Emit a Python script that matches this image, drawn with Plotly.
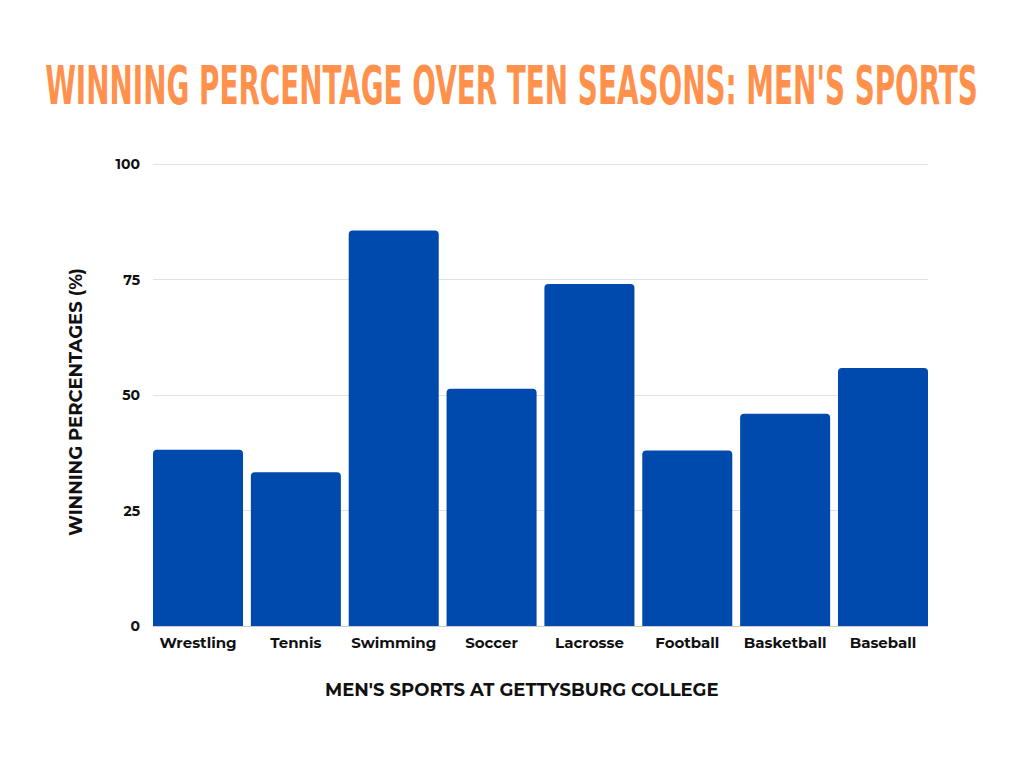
import plotly.graph_objects as go

categories = ["Wrestling", "Tennis", "Swimming", "Soccer", "Lacrosse", "Football", "Basketball", "Baseball"]
win_pct = [38.2, 33.3, 85.7, 51.4, 74.1, 38.0, 46.0, 55.9]
y_ticks = [0, 25, 50, 75, 100]

TITLE = "WINNING PERCENTAGE OVER TEN SEASONS: MEN'S SPORTS"
X_TITLE = "MEN'S SPORTS AT GETTYSBURG COLLEGE"
Y_TITLE = "WINNING PERCENTAGES (%)"
FONT = "Montserrat, Inter, 'Noto Sans', sans-serif"
GAP = 0.08

fig = go.Figure(go.Bar(
    x=categories, y=win_pct,
    marker=dict(color="#004aad", cornerradius=4, line=dict(width=0)),
    hoverinfo="x+y",
))

axis_title_font = dict(family=FONT, size=18, color="#111111", weight="bold")

fig.update_layout(
    width=1024, height=768,
    paper_bgcolor="white", plot_bgcolor="white",
    margin=dict(l=145, r=104, t=155, b=150),
    bargap=GAP,
    showlegend=False,
    title=dict(
        text=TITLE, x=503.5 / 1024, xanchor="center", y=1 - 77 / 768, yanchor="middle",
        font=dict(family="'DejaVu Sans Condensed', 'Liberation Sans Narrow', sans-serif",
                  size=54, color="#ff914d", weight="bold"),
    ),
    xaxis=dict(
        tickfont=dict(family=FONT, size=15, color="#111111", weight="bold"),
        range=[-0.5 + GAP / 2, len(categories) - 0.5 - GAP / 2],
        showgrid=False, showline=False, ticks="", zeroline=False,
        ticklabelstandoff=6,
    ),
    yaxis=dict(
        tickfont=dict(family=FONT, size=14, color="#111111", weight="bold"),
        range=[0, 100.3], tickvals=y_ticks, ticktext=[str(v) for v in y_ticks],
        showgrid=True, gridcolor="#e2e2e2", gridwidth=1,
        zeroline=True, zerolinecolor="#cccccc", zerolinewidth=1,
        ticks="", ticklabelstandoff=12, showline=False,
    ),
    annotations=[
        dict(text=X_TITLE, xref="paper", yref="paper", x=0.4761, y=-0.1382,
             xanchor="center", yanchor="middle", showarrow=False, font=axis_title_font),
        dict(text=Y_TITLE, xref="paper", yref="paper", x=-0.0994, y=0.4838,
             xanchor="center", yanchor="middle", textangle=-90, showarrow=False,
             font=axis_title_font),
    ],
)

post = """
var gd = document.getElementById('{plot_id}');
function fitTitle(){
  var t = gd.querySelector('.gtitle');
  if(!t) return;
  t.removeAttribute('transform');
  var b = t.getBBox();
  var cx = b.x + b.width/2, cy = b.y + b.height/2;
  var sx = 933 / b.width;
  t.setAttribute('transform', 'translate(' + cx + ',' + cy + ') scale(' + sx + ',1) translate(' + (-cx) + ',' + (-cy) + ')');
}
fitTitle();
gd.on('plotly_afterplot', fitTitle);
"""

fig.write_html("out.html", post_script=post)
